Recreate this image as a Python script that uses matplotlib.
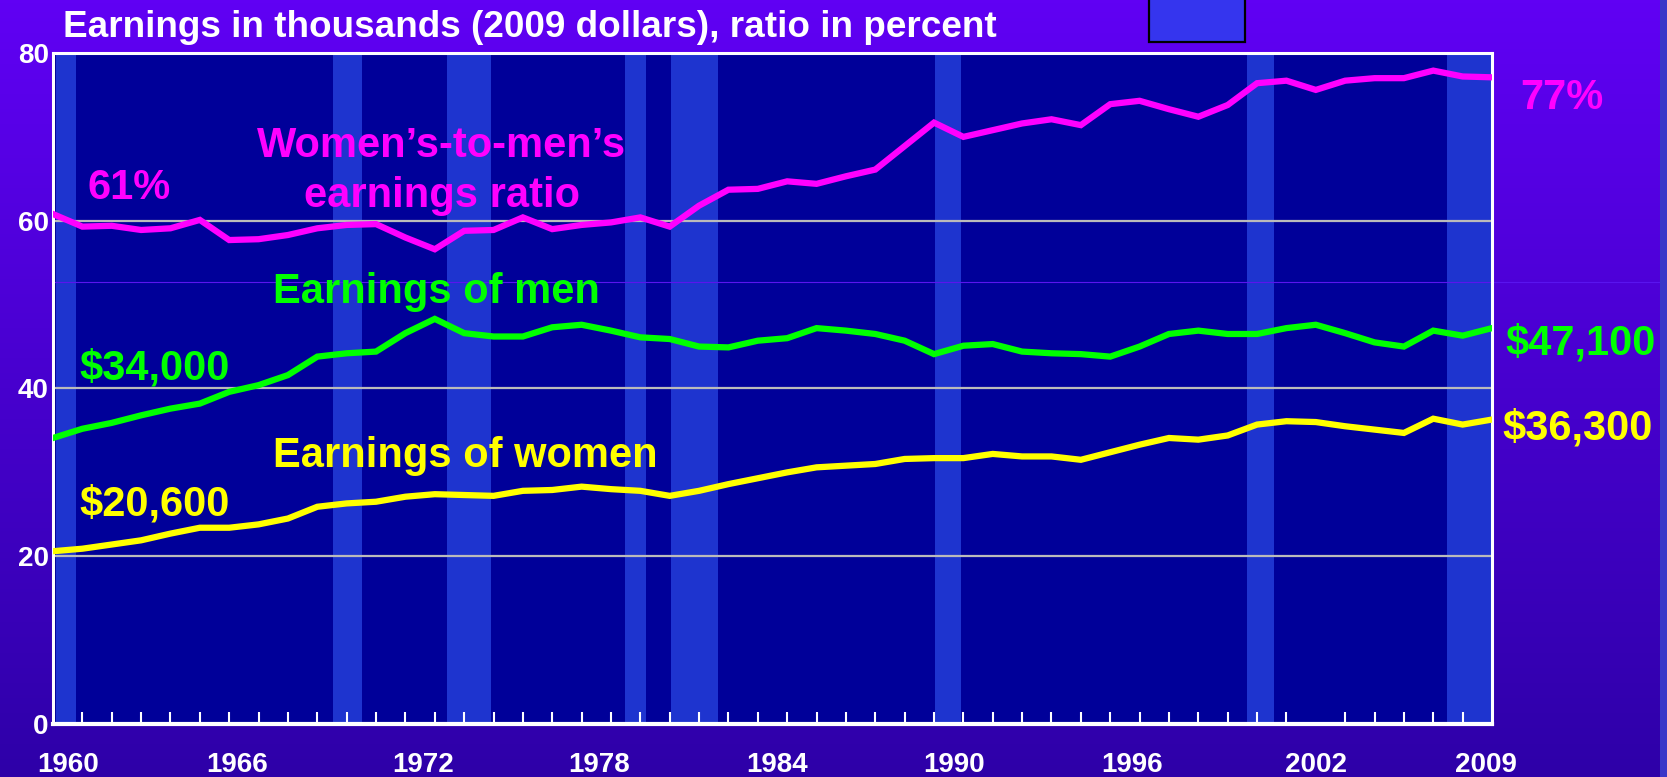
import matplotlib
matplotlib.use("Agg")
import matplotlib.pyplot as plt
import numpy as np
from matplotlib.patches import Rectangle

plt.rcParams['font.family'] = ['Liberation Sans', 'DejaVu Sans']
plt.rcParams['font.weight'] = 'bold'

# data
years = list(range(1960, 2010))
ratio = [60.8, 59.3, 59.4, 58.9, 59.1, 60.1, 57.7, 57.8, 58.3, 59.1,
         59.5, 59.6, 58.0, 56.6, 58.8, 58.9, 60.4, 59.0, 59.5, 59.8,
         60.4, 59.3, 61.8, 63.7, 63.8, 64.7, 64.4, 65.3, 66.1, 68.9,
         71.7, 70.0, 70.8, 71.6, 72.1, 71.4, 73.9, 74.3, 73.3, 72.4,
         73.8, 76.4, 76.7, 75.6, 76.7, 77.0, 77.0, 77.9, 77.2, 77.1]
men = [34.1, 35.2, 35.9, 36.8, 37.6, 38.2, 39.6, 40.4, 41.6, 43.8,
       44.2, 44.4, 46.6, 48.3, 46.6, 46.2, 46.2, 47.3, 47.6, 46.9,
       46.1, 45.9, 45.0, 44.9, 45.7, 46.0, 47.2, 46.9, 46.5, 45.7,
       44.1, 45.1, 45.3, 44.4, 44.2, 44.1, 43.8, 45.0, 46.5, 46.9,
       46.5, 46.5, 47.2, 47.6, 46.6, 45.5, 45.0, 46.9, 46.3, 47.2]
women = [20.6, 20.9, 21.4, 21.9, 22.7, 23.4, 23.4, 23.8, 24.5, 25.9,
         26.3, 26.5, 27.1, 27.4, 27.3, 27.2, 27.8, 27.9, 28.3, 28.0,
         27.8, 27.2, 27.8, 28.6, 29.3, 30.0, 30.6, 30.8, 31.0, 31.6,
         31.7, 31.7, 32.2, 31.9, 31.9, 31.5, 32.4, 33.3, 34.1, 33.9,
         34.4, 35.7, 36.1, 36.0, 35.5, 35.1, 34.7, 36.4, 35.7, 36.3]
recessions = [(1960.1, 1960.8), (1969.53, 1970.52), (1973.41, 1974.91),
              (1979.48, 1980.19), (1981.04, 1982.64), (1990.03, 1990.92),
              (2000.65, 2001.57), (2007.46, 2009.0)]
year_labels = ['1960', '1966', '1972', '1978', '1984', '1990', '1996', '2002', '2009']
year_label_pos = [1960.5, 1966.27, 1972.6, 1978.6, 1984.65, 1990.68, 1996.74, 2003.0, 2008.8]

W, H = 1667, 777
fig = plt.figure(figsize=(W / 100, H / 100), dpi=100)

# slide background gradient
bg = fig.add_axes([0, 0, 1, 1], zorder=-10)
grad = np.linspace(0, 1, 256).reshape(-1, 1)
top = np.array([0x60, 0x00, 0xF4]) / 255
bot = np.array([0x2E, 0x00, 0xA8]) / 255
img = top + grad[:, :, None] * (bot - top)
bg.imshow(img, aspect='auto', extent=[0, 1, 0, 1])
bg.axis('off')
fig.patches.append(Rectangle((1660 / W, 0), 7 / W, 1, transform=fig.transFigure,
                             facecolor='#3838C8', edgecolor='none'))
# stray legend box at the top
fig.patches.append(Rectangle((1149 / W, 1 - 42 / H), 96 / W, 44 / H, transform=fig.transFigure,
                             facecolor='#3535EE', edgecolor='black', linewidth=1.6))

ax = fig.add_axes([53 / W, 1 - 724 / H, (1492 - 53) / W, (724 - 53) / H])
ax.set_facecolor('#000099')
ax.set_xlim(1960, 2009)
ax.set_ylim(0, 80)

for a, b in recessions:
    ax.axvspan(a, b, facecolor='#1E34CF', edgecolor='none', zorder=0.5)

for v in [20, 40, 60]:
    ax.axhline(v, color='#BBBBBB', lw=1.6, zorder=1)
ax.axhline(52.7, xmin=0, xmax=(1660 - 53) / (1492 - 53), color='#5A14EE', lw=0.8,
           zorder=1, clip_on=False)

ax.plot(years, ratio, color='#FF00FF', lw=4.5, zorder=3, solid_joinstyle='miter')
ax.plot(years, men, color='#00FF00', lw=4.5, zorder=3, solid_joinstyle='miter')
ax.plot(years, women, color='#FFFF00', lw=4.5, zorder=3, solid_joinstyle='miter')

for s in ax.spines.values():
    s.set_color('white')
    s.set_linewidth(2.2)
ax.spines['bottom'].set_linewidth(3)

ax.set_yticks([0, 20, 40, 60, 80])
ax.set_yticklabels(['0', '20', '40', '60', '80'])
ax.tick_params(axis='y', length=0, pad=3, labelsize=20, labelcolor='white')
ax.set_xticks(year_label_pos)
ax.set_xticklabels(year_labels)
ax.tick_params(axis='x', which='major', length=0, pad=20, labelsize=20, labelcolor='white')
ax.set_xticks(years[1:-1], minor=True)
ax.tick_params(axis='x', which='minor', direction='in', length=9, width=1.5, color='white')
for lab in ax.get_xticklabels() + ax.get_yticklabels():
    lab.set_fontweight('bold')

fs = 30
ax.text(1961.16, 62.6, '61%', color='#FF00FF', fontsize=fs, fontweight='bold', va='baseline')
ax.text(1973.24, 67.6, 'Women\u2019s-to-men\u2019s', color='#FF00FF', fontsize=fs,
        fontweight='bold', ha='center', va='baseline')
ax.text(1973.24, 61.6, 'earnings ratio', color='#FF00FF', fontsize=fs,
        fontweight='bold', ha='center', va='baseline')
ax.text(1967.49, 50.2, 'Earnings of men', color='#00FF00', fontsize=fs, fontweight='bold', va='baseline')
ax.text(1967.49, 30.6, 'Earnings of women', color='#FFFF00', fontsize=fs, fontweight='bold', va='baseline')
ax.text(1960.89, 41.1, '$34,000', color='#00FF00', fontsize=fs, fontweight='bold', va='baseline')
ax.text(1960.89, 24.9, '$20,600', color='#FFFF00', fontsize=fs, fontweight='bold', va='baseline')
ax.text(2009.96, 73.3, '77%', color='#FF00FF', fontsize=fs, fontweight='bold', va='baseline', clip_on=False)
ax.text(2009.47, 44.0, '$47,100', color='#00FF00', fontsize=fs, fontweight='bold', va='baseline', clip_on=False)
ax.text(2009.37, 33.9, '$36,300', color='#FFFF00', fontsize=fs, fontweight='bold', va='baseline', clip_on=False)

fig.text(63 / W, 1 - 37 / H, 'Earnings in thousands (2009 dollars), ratio in percent',
         color='white', fontsize=26.6, fontweight='bold', va='baseline')

fig.savefig('out.png', dpi=100)
